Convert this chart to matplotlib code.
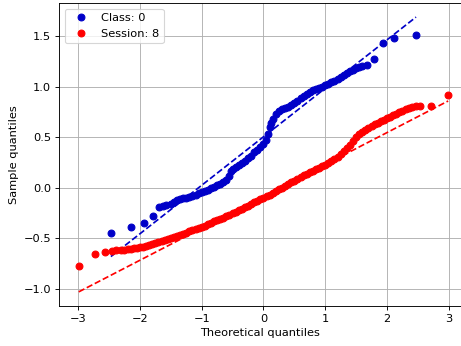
import matplotlib
matplotlib.use('Agg')
import numpy as np
import matplotlib.pyplot as plt

# Class: 0 -- theoretical vs sample quantiles
class_x = [-2.47, -2.14, -1.94, -1.79, -1.69, -1.62, -1.57, -1.5, -1.45, -1.4,
           -1.35, -1.3, -1.25, -1.2, -1.15, -1.1, -1.05, -1.0, -0.95, -0.9,
           -0.85, -0.8, -0.75, -0.7, -0.65, -0.6, -0.56, -0.53, -0.5, -0.45,
           -0.4, -0.35, -0.3, -0.25, -0.2, -0.15, -0.1, -0.05, 0.0, 0.04,
           0.07, 0.1, 0.13, 0.16, 0.2, 0.25, 0.3, 0.35, 0.4, 0.45,
           0.5, 0.55, 0.6, 0.65, 0.7, 0.75, 0.8, 0.85, 0.9, 0.95,
           1.0, 1.05, 1.1, 1.15, 1.2, 1.25, 1.3, 1.35, 1.4, 1.45,
           1.5, 1.55, 1.6, 1.68, 1.79, 1.93, 2.12, 2.47]
class_y = [-0.45, -0.39, -0.35, -0.28, -0.19, -0.18, -0.17, -0.16, -0.14, -0.12,
           -0.11, -0.10, -0.10, -0.09, -0.08, -0.07, -0.05, -0.04, -0.03, -0.02,
           0.0, 0.01, 0.03, 0.04, 0.06, 0.08, 0.12, 0.17, 0.19, 0.21,
           0.23, 0.25, 0.27, 0.30, 0.32, 0.35, 0.37, 0.40, 0.43, 0.47,
           0.53, 0.60, 0.64, 0.68, 0.73, 0.76, 0.78, 0.79, 0.80, 0.82,
           0.84, 0.86, 0.89, 0.91, 0.93, 0.95, 0.97, 0.98, 0.99, 1.00,
           1.02, 1.03, 1.05, 1.06, 1.08, 1.10, 1.12, 1.14, 1.16, 1.17,
           1.19, 1.20, 1.21, 1.22, 1.28, 1.43, 1.48, 1.51]

# Session: 8
session_x = [-2.99, -2.72, -2.56, -2.45, -2.38,
             -2.3, -2.25, -2.2, -2.15, -2.1, -2.05, -2.0, -1.95, -1.9, -1.85,
             -1.8, -1.75, -1.7, -1.65, -1.6, -1.55, -1.5, -1.45, -1.4, -1.35,
             -1.3, -1.25, -1.2, -1.15, -1.1, -1.05, -1.0, -0.95, -0.9, -0.85,
             -0.8, -0.75, -0.7, -0.65, -0.6, -0.55, -0.5, -0.45, -0.4, -0.35,
             -0.3, -0.25, -0.2, -0.15, -0.1, -0.05, 0.0, 0.05, 0.1, 0.15,
             0.2, 0.25, 0.3, 0.35, 0.4, 0.45, 0.5, 0.55, 0.6, 0.65,
             0.7, 0.75, 0.8, 0.85, 0.9, 0.95, 1.0, 1.05, 1.1, 1.15,
             1.2, 1.25, 1.3, 1.35, 1.4, 1.45, 1.5, 1.55, 1.6, 1.65,
             1.7, 1.75, 1.8, 1.85, 1.9, 1.95, 2.0, 2.05, 2.1, 2.15,
             2.2, 2.25, 2.3, 2.35, 2.4, 2.47, 2.54, 2.71, 2.99]
session_y = [-0.77, -0.66, -0.64, -0.63, -0.62,
             -0.62, -0.615, -0.61, -0.605, -0.60, -0.595, -0.59, -0.585, -0.58, -0.57,
             -0.56, -0.55, -0.54, -0.53, -0.52, -0.51, -0.50, -0.49, -0.48, -0.47,
             -0.46, -0.445, -0.43, -0.42, -0.41, -0.40, -0.39, -0.375, -0.36, -0.345,
             -0.33, -0.32, -0.31, -0.295, -0.28, -0.265, -0.25, -0.235, -0.22, -0.205,
             -0.19, -0.175, -0.16, -0.145, -0.13, -0.115, -0.10, -0.085, -0.07, -0.05,
             -0.03, -0.015, 0.0, 0.02, 0.04, 0.055, 0.07, 0.09, 0.11, 0.125,
             0.14, 0.155, 0.17, 0.185, 0.20, 0.215, 0.23, 0.25, 0.27, 0.29,
             0.31, 0.335, 0.36, 0.39, 0.42, 0.46, 0.50, 0.53, 0.55, 0.57,
             0.59, 0.61, 0.63, 0.645, 0.66, 0.675, 0.69, 0.705, 0.72, 0.735,
             0.75, 0.765, 0.78, 0.79, 0.80, 0.81, 0.81, 0.81, 0.92]

# fitted reference lines (slope, intercept)
class_line = (0.48, 0.505)
session_line = (0.316, -0.085)

blue = '#0000c8'
red = '#ff0000'

DPI = 81.5
fig = plt.figure(figsize=(461 / DPI, 346 / DPI), dpi=DPI)
ax = fig.add_axes([59 / 461, 40 / 346, 401.5 / 461, 303 / 346])

ax.plot(class_x, class_y, 'o', color=blue, label='Class: 0')
lx = np.array([class_x[0], class_x[-1]])
ax.plot(lx, class_line[0] * lx + class_line[1], '--', color=blue)

ax.plot(session_x, session_y, 'o', color=red, label='Session: 8')
lx = np.array([session_x[0], session_x[-1]])
ax.plot(lx, session_line[0] * lx + session_line[1], '--', color=red)

ax.set_xlim(-3.31, 3.19)
ax.set_ylim(-1.17, 1.83)
ax.set_xticks([-3, -2, -1, 0, 1, 2, 3])
ax.set_yticks([-1.0, -0.5, 0.0, 0.5, 1.0, 1.5])
ax.grid(True)
ax.set_axisbelow(True)
ax.set_xlabel('Theoretical quantiles')
ax.set_ylabel('Sample quantiles')
ax.legend(loc='upper left')

fig.savefig('out.png', dpi=DPI)
